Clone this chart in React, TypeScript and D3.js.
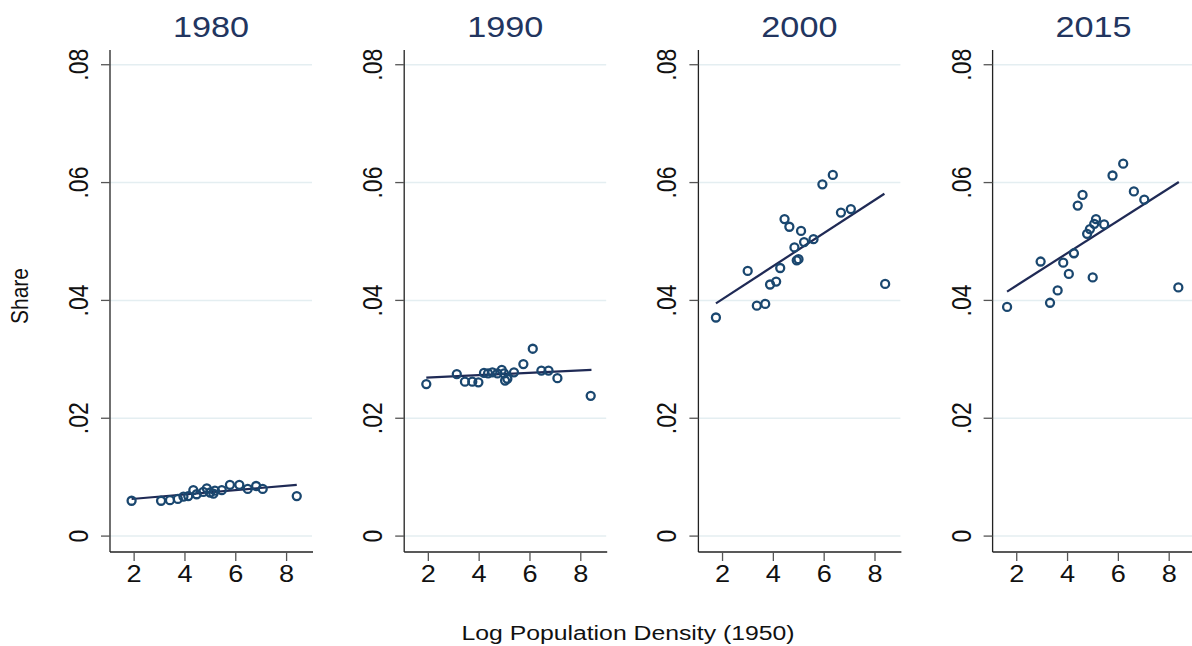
import React from "react";
import * as d3 from "d3";

// Panel years
const years = ["1980", "1990", "2000", "2015"];

// Log population density (1950) and share, one array pair per panel
const density1980 = [1.90, 3.06, 3.41, 3.72, 3.94, 4.13, 4.33, 4.46, 4.72, 4.86, 4.99, 5.12, 5.18, 5.45, 5.77, 6.14, 6.47, 6.80, 7.06, 8.40];
const share1980 = [0.0060, 0.0060, 0.0061, 0.0063, 0.0067, 0.0068, 0.0078, 0.0071, 0.0075, 0.0081, 0.0074, 0.0072, 0.0077, 0.0078, 0.0087, 0.0087, 0.0080, 0.0085, 0.0080, 0.0068];

const density1990 = [1.92, 3.12, 3.44, 3.73, 3.97, 4.19, 4.35, 4.52, 4.72, 4.89, 4.98, 5.02, 5.11, 5.37, 5.74, 6.11, 6.45, 6.73, 7.08, 8.39];
const share1990 = [0.0258, 0.0275, 0.0262, 0.0262, 0.0261, 0.0277, 0.0276, 0.0278, 0.0276, 0.0282, 0.0276, 0.0264, 0.0267, 0.0278, 0.0292, 0.0318, 0.0281, 0.0281, 0.0268, 0.0238];

const density2000 = [1.74, 2.99, 3.35, 3.68, 3.87, 4.11, 4.27, 4.44, 4.63, 4.83, 4.92, 4.99, 5.09, 5.21, 5.58, 5.93, 6.34, 6.66, 7.05, 8.40];
const share2000 = [0.0371, 0.0450, 0.0391, 0.0394, 0.0427, 0.0432, 0.0455, 0.0538, 0.0525, 0.0490, 0.0468, 0.0470, 0.0518, 0.0499, 0.0504, 0.0597, 0.0613, 0.0549, 0.0555, 0.0428];

const density2015 = [1.62, 2.94, 3.31, 3.61, 3.83, 4.05, 4.25, 4.40, 4.59, 4.77, 4.88, 4.99, 5.05, 5.12, 5.44, 5.77, 6.19, 6.61, 7.02, 8.36];
const share2015 = [0.0389, 0.0466, 0.0396, 0.0417, 0.0464, 0.0445, 0.0480, 0.0561, 0.0579, 0.0513, 0.0521, 0.0439, 0.0530, 0.0538, 0.0529, 0.0612, 0.0632, 0.0585, 0.0571, 0.0422];

// Linear fit endpoints (x at data min/max, fitted share)
const fit1980 = [[1.90, 0.0063], [8.40, 0.0087]];
const fit1990 = [[1.92, 0.0269], [8.42, 0.0282]];
const fit2000 = [[1.74, 0.0395], [8.37, 0.0581]];
const fit2015 = [[1.62, 0.0415], [8.38, 0.0601]];

// Axis ticks
const xTicks = [2, 4, 6, 8];
const yTicks = [0, 0.02, 0.04, 0.06, 0.08];
const yTickLabels = ["0", ".02", ".04", ".06", ".08"];

const panels = [
  { year: years[0], x: density1980, y: share1980, fit: fit1980 },
  { year: years[1], x: density1990, y: share1990, fit: fit1990 },
  { year: years[2], x: density2000, y: share2000, fit: fit2000 },
  { year: years[3], x: density2015, y: share2015, fit: fit2015 },
];

const W = 1192;
const H = 646;
const firstAxisX = 110;
const panelStep = 294.2;
const plotW = 202;
const plotTop = 50;
const plotBottom = 552;
const sx = 1.18; // horizontal text stretch

const font = "'Liberation Sans', Arial, Helvetica, sans-serif";
const markerColor = "#1a476f";
const lineColor = "#1f2a55";
const titleColor = "#22355f";
const gridColor = "#e4eef1";

export default function App() {
  const y = d3.scaleLinear().domain([-0.0027, 0.0825]).range([plotBottom, plotTop]);

  return (
    <svg width={W} height={H} style={{ display: "block", position: "absolute", left: 0, top: 0, background: "#fff" }}>
      <rect x={0} y={0} width={W} height={H} fill="#fff" />
      {panels.map((p, i) => {
        const left = firstAxisX + i * panelStep;
        const x = d3.scaleLinear().domain([1.05, 9.0]).range([left, left + plotW]);
        const line = d3.line<number[]>().x((d) => x(d[0])).y((d) => y(d[1]));
        return (
          <g key={p.year}>
            {/* gridlines */}
            {yTicks.map((t) => (
              <line key={"g" + t} x1={left} x2={left + plotW} y1={y(t)} y2={y(t)} stroke={gridColor} strokeWidth={1.5} />
            ))}
            {/* y axis */}
            <line x1={left} x2={left} y1={plotTop} y2={plotBottom} stroke="#222" strokeWidth={1.3} />
            {yTicks.map((t, k) => (
              <g key={"yt" + t}>
                <line x1={left - 9} x2={left} y1={y(t)} y2={y(t)} stroke="#555" strokeWidth={1.3} />
                <text
                  transform={`translate(${left - 22},${y(t)}) scale(${sx},1) rotate(-90)`}
                  textAnchor="middle"
                  fontFamily={font}
                  fontSize={23}
                  fill="#111"
                >
                  {yTickLabels[k]}
                </text>
              </g>
            ))}
            {/* x axis */}
            <line x1={left} x2={left + plotW + 1} y1={plotBottom} y2={plotBottom} stroke="#222" strokeWidth={1.3} />
            {xTicks.map((t) => (
              <g key={"xt" + t}>
                <line x1={x(t)} x2={x(t)} y1={plotBottom} y2={plotBottom + 9} stroke="#555" strokeWidth={1.3} />
                <text
                  transform={`translate(${x(t)},${plotBottom + 30}) scale(${sx},1)`}
                  textAnchor="middle"
                  fontFamily={font}
                  fontSize={23}
                  fill="#111"
                >
                  {t}
                </text>
              </g>
            ))}
            {/* fitted line */}
            <path d={line(p.fit) || ""} fill="none" stroke={lineColor} strokeWidth={2.2} />
            {/* markers */}
            {p.x.map((v, k) => (
              <circle key={k} cx={x(v)} cy={y(p.y[k])} r={4} fill="none" stroke={markerColor} strokeWidth={2.3} />
            ))}
            {/* panel title */}
            <text
              transform={`translate(${left + plotW / 2},${37}) scale(${sx},1)`}
              textAnchor="middle"
              fontFamily={font}
              fontSize={29}
              fill={titleColor}
            >
              {p.year}
            </text>
          </g>
        );
      })}
      <text
        transform={`translate(${28},${296}) scale(${sx},1) rotate(-90)`}
        textAnchor="middle"
        fontFamily={font}
        fontSize={21}
        fill="#111"
      >
        Share
      </text>
      <text
        transform={`translate(${628},${640}) scale(${sx},1)`}
        textAnchor="middle"
        fontFamily={font}
        fontSize={21}
        fill="#111"
      >
        Log Population Density (1950)
      </text>
    </svg>
  );
}
